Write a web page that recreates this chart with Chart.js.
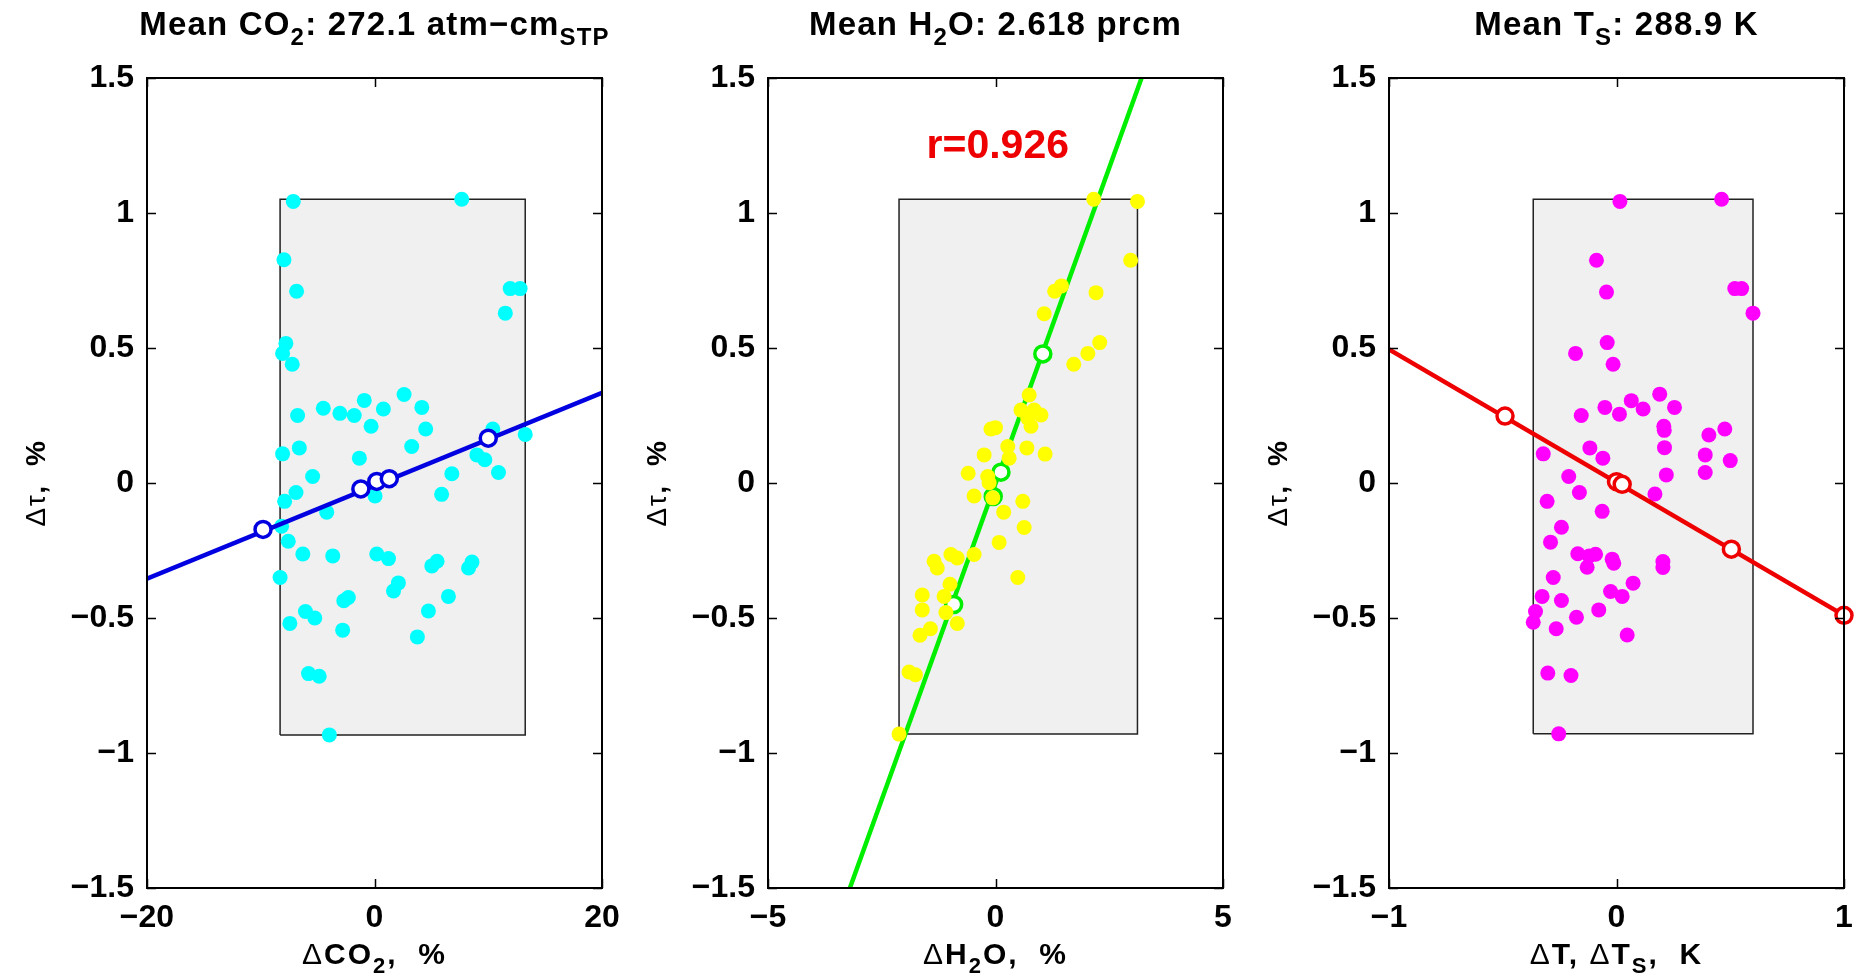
<!DOCTYPE html>
<html>
<head>
<meta charset="utf-8">
<script src="https://cdn.jsdelivr.net/npm/chart.js@4.4.0/dist/chart.umd.min.js"></script>
<style>
  html, body { margin: 0; padding: 0; background: #fff; overflow: hidden; }
  #wrap { position: relative; width: 1861px; height: 980px; }
  .panel { position: absolute; top: 0; width: 619px; height: 980px; }
</style>
</head>
<body>
<div id="wrap">
  <div class="panel" style="left:0px"><canvas id="c1" width="619" height="980"></canvas></div>
  <div class="panel" style="left:621px"><canvas id="c2" width="619" height="980"></canvas></div>
  <div class="panel" style="left:1242px"><canvas id="c3" width="619" height="980"></canvas></div>
</div>
<script>
// ---- data ----
const tauTicks = [-1.5, -1, -0.5, 0, 0.5, 1, 1.5];

// panel 1: CO2
const co2X = [-7.14, 7.67, -7.96, -6.85, 11.93, 12.8, 11.5, -7.79, -8.08, -7.23, -6.76, -4.5, -3.04, -1.78, -0.9, 0.78, 2.6, 4.16, -0.3, 4.5, 10.4, 13.25, -6.61, -8.08, -1.33, 3.27, 9.0, 9.7, 10.9, 6.8, -5.44, -6.9, -7.9, -4.2, 0.05, 5.9, -8.17, -7.58, -6.3, -3.67, 0.2, 1.23, 5.04, 5.5, 8.27, 8.57, -8.3, 1.67, 2.1, 6.5, -2.7, -2.3, -6.07, -5.25, 4.74, -7.44, -2.8, 3.77, -5.8, -4.86, -3.97];
const co2Tau = [1.043, 1.051, 0.827, 0.71, 0.72, 0.72, 0.629, 0.517, 0.48, 0.44, 0.25, 0.277, 0.258, 0.25, 0.306, 0.274, 0.328, 0.28, 0.21, 0.2, 0.2, 0.18, 0.13, 0.108, 0.092, 0.135, 0.104, 0.086, 0.039, 0.034, 0.024, -0.035, -0.068, -0.108, -0.048, -0.042, -0.16, -0.216, -0.263, -0.27, -0.263, -0.28, -0.307, -0.29, -0.315, -0.293, -0.35, -0.4, -0.37, -0.42, -0.436, -0.424, -0.476, -0.5, -0.474, -0.52, -0.545, -0.57, -0.706, -0.716, -0.933];
const co2FitX = [-20, 20];
const co2FitY = [-0.354, 0.334];
const co2BinX = [-9.8, -1.2, 0.2, 1.3, 10];
const co2BinY = [-0.172, -0.022, 0.006, 0.016, 0.166];
const co2Range = [-20, 20];
const co2Ticks = [-20, 0, 20];

// panel 2: H2O
const h2oX = [2.16, 3.12, 2.97, 1.3, 1.45, 2.21, 1.07, 2.29, 2.03, 1.72, 0.74, 0.56, 0.85, 1.0, 0.71, 0.78, -0.1, 0.0, 0.27, 0.69, 1.09, -0.25, 0.3, -0.6, -0.17, -0.14, -0.47, -0.06, 0.6, 0.18, 0.63, 0.08, -0.47, -0.98, -1.35, -1.28, -0.84, 0.49, -1.0, -1.61, -1.13, -1.61, -1.09, -0.84, -1.43, -1.66, -1.9, -1.76, -2.12];
const h2oTau = [1.051, 1.043, 0.825, 0.71, 0.73, 0.705, 0.627, 0.52, 0.48, 0.44, 0.326, 0.27, 0.27, 0.252, 0.24, 0.21, 0.2, 0.205, 0.135, 0.13, 0.107, 0.104, 0.092, 0.036, 0.024, 0.001, -0.048, -0.055, -0.068, -0.108, -0.165, -0.22, -0.265, -0.265, -0.29, -0.315, -0.278, -0.35, -0.375, -0.415, -0.42, -0.47, -0.48, -0.52, -0.54, -0.564, -0.7, -0.71, -0.93];
const h2oFitX = [-3.2, 3.21];
const h2oFitY = [-1.5, 1.5];
const h2oBinX = [-0.92, -0.05, 0.12, 1.04];
const h2oBinY = [-0.45, -0.05, 0.04, 0.478];
const h2oRange = [-5, 5];
const h2oTicks = [-5, 0, 5];

// panel 3: surface temperature
const tsX = [0.015, 0.462, -0.088, -0.044, 0.52, 0.55, 0.6, -0.041, -0.18, -0.015, -0.155, -0.051, 0.013, 0.065, 0.117, 0.19, 0.255, 0.208, 0.21, 0.406, 0.476, -0.322, -0.117, -0.06, 0.211, 0.39, 0.5, -0.21, 0.219, 0.39, -0.163, 0.169, -0.305, -0.063, -0.242, -0.29, -0.17, -0.092, -0.12, -0.129, -0.019, -0.012, 0.204, 0.204, -0.278, 0.073, -0.026, 0.025, -0.327, -0.242, -0.356, -0.078, -0.366, -0.176, -0.265, 0.047, -0.302, -0.2, -0.254];
const tsTau = [1.043, 1.051, 0.825, 0.707, 0.72, 0.72, 0.629, 0.52, 0.48, 0.44, 0.25, 0.28, 0.255, 0.305, 0.274, 0.329, 0.28, 0.21, 0.195, 0.178, 0.2, 0.108, 0.13, 0.092, 0.131, 0.104, 0.083, 0.024, 0.03, 0.039, -0.035, -0.041, -0.068, -0.105, -0.164, -0.219, -0.262, -0.264, -0.27, -0.312, -0.282, -0.297, -0.291, -0.313, -0.35, -0.371, -0.402, -0.42, -0.42, -0.435, -0.476, -0.47, -0.516, -0.497, -0.54, -0.563, -0.704, -0.713, -0.929];
const tsFitX = [-1, 1];
const tsFitY = [0.495, -0.49];
const tsBinX = [-0.49, 0, 0.025, 0.505, 1];
const tsBinY = [0.248, 0.005, -0.005, -0.245, -0.49];
const tsRange = [-1, 1];
const tsTicks = [-1, 0, 1];

// ---- helpers ----
const FONT = '"Liberation Sans", Arial, Helvetica, sans-serif';
const TICK_SIZE = 32;

const pts = (xs, ys) => xs.map((x, i) => ({ x: x, y: ys[i] }));

// gray box spanning the range of the scatter
function boxOf(xs, ys) {
  const x0 = Math.min(...xs), x1 = Math.max(...xs);
  const y0 = Math.min(...ys), y1 = Math.max(...ys);
  return [{ x: x0, y: y0 }, { x: x0, y: y1 }, { x: x1, y: y1 }, { x: x1, y: y0 }, { x: x0, y: y0 }];
}

const fmt = v => String(v).replace('-', '\u2212');

// draw text made of pieces: 'b' bold, 'n' normal, 's' subscript
function drawRich(ctx, segs, cx, baseY, size, spacing) {
  ctx.letterSpacing = (spacing || 0) + 'px';
  const parts = segs.map(([t, k]) => {
    const sub = k === 's';
    const fs = sub ? Math.round(size * 0.72) : size;
    const font = (k === 'n' ? '' : 'bold ') + fs + 'px ' + FONT;
    ctx.font = font;
    return { t: t, font: font, w: ctx.measureText(t).width, dy: sub ? size * 0.3 : 0 };
  });
  const total = parts.reduce((s, p) => s + p.w, 0);
  let x = cx - total / 2;
  ctx.textAlign = 'left';
  ctx.textBaseline = 'alphabetic';
  parts.forEach(p => {
    ctx.font = p.font;
    ctx.fillText(p.t, x, baseY + p.dy);
    x += p.w;
  });
  ctx.letterSpacing = '0px';
}

// frame with inward ticks, titles and labels
const framePlugin = {
  id: 'frame',
  afterDraw(chart, args, opts) {
    const { ctx, chartArea: a, scales } = chart;
    const xs = scales.x, ys = scales.y;
    ctx.save();
    ctx.strokeStyle = '#000';
    ctx.lineWidth = 1.5;
    ctx.beginPath();
    xs.ticks.forEach(t => {
      const px = Math.round(xs.getPixelForValue(t.value)) + 0.5;
      ctx.moveTo(px, a.bottom); ctx.lineTo(px, a.bottom - 9);
      ctx.moveTo(px, a.top); ctx.lineTo(px, a.top + 9);
    });
    ys.ticks.forEach(t => {
      const py = Math.round(ys.getPixelForValue(t.value)) + 0.5;
      ctx.moveTo(a.left, py); ctx.lineTo(a.left + 9, py);
      ctx.moveTo(a.right, py); ctx.lineTo(a.right - 9, py);
    });
    ctx.stroke();
    ctx.lineWidth = 2;
    ctx.strokeRect(a.left, a.top, a.right - a.left, a.bottom - a.top);

    const midX = (a.left + a.right) / 2;
    ctx.fillStyle = '#000';
    drawRich(ctx, opts.title, midX, 35, 33, 1.2);
    drawRich(ctx, opts.xLabel, midX, 964, 30, 2);

    ctx.save();
    ctx.translate(45, (a.top + a.bottom) / 2);
    ctx.rotate(-Math.PI / 2);
    drawRich(ctx, opts.yLabel, 0, 0, 28, 1.5);
    ctx.restore();

    if (opts.note) {
      ctx.fillStyle = opts.note.color;
      ctx.font = 'bold ' + opts.note.size + 'px ' + FONT;
      ctx.textAlign = 'center';
      ctx.textBaseline = 'middle';
      ctx.fillText(opts.note.text, xs.getPixelForValue(opts.note.x), ys.getPixelForValue(opts.note.y));
    }
    ctx.restore();
  }
};

function makePanel(id, p) {
  const dots = {
    type: 'scatter', data: pts(p.x, p.y), pointRadius: 7.5, pointHoverRadius: 7.5,
    pointBackgroundColor: p.dotColor, pointBorderWidth: 0, showLine: false
  };
  const circles = {
    type: 'line', data: pts(p.binX, p.binY), showLine: false, clip: false,
    pointRadius: 8, pointBorderWidth: 3.5, pointBorderColor: p.lineColor, pointBackgroundColor: '#fff'
  };
  const fit = {
    type: 'line', data: pts(p.fitX, p.fitY), borderColor: p.lineColor, borderWidth: 4.5,
    pointRadius: 0, tension: 0, fill: false
  };
  const box = {
    type: 'line', data: boxOf(p.x, p.y), borderColor: '#222', borderWidth: 1.5,
    backgroundColor: '#f0f0f0', fill: 'shape', pointRadius: 0, tension: 0
  };
  // first dataset is drawn on top
  const datasets = p.dotsOnTop ? [dots, circles, fit, box] : [circles, fit, dots, box];

  return new Chart(document.getElementById(id), {
    type: 'scatter',
    data: { datasets: datasets },
    options: {
      responsive: false,
      animation: false,
      devicePixelRatio: 1,
      layout: { padding: { top: 78, right: 17, bottom: 0, left: 0 } },
      plugins: {
        legend: { display: false },
        tooltip: { enabled: false },
        frame: { title: p.title, xLabel: p.xLabel, yLabel: [['\u0394\u03c4', 'n'], [',  %', 'b']], note: p.note }
      },
      scales: {
        x: {
          type: 'linear', min: p.range[0], max: p.range[1],
          grid: { display: false, drawTicks: false },
          border: { display: false },
          afterBuildTicks: s => { s.ticks = p.ticks.map(v => ({ value: v })); },
          afterFit: s => { s.height = 92; s.paddingLeft = 0; s.paddingRight = 0; },
          ticks: {
            autoSkip: false, maxRotation: 0, padding: 11, color: '#000',
            font: { family: FONT, size: TICK_SIZE, weight: 'bold' },
            callback: v => fmt(v)
          }
        },
        y: {
          type: 'linear', min: -1.5, max: 1.5,
          grid: { display: false, drawTicks: false },
          border: { display: false },
          afterBuildTicks: s => { s.ticks = tauTicks.map(v => ({ value: v })); },
          afterFit: s => { s.width = 147; s.paddingTop = 0; s.paddingBottom = 0; },
          ticks: {
            autoSkip: false, padding: 13, color: '#000',
            font: { family: FONT, size: TICK_SIZE, weight: 'bold' },
            callback: v => fmt(v)
          }
        }
      }
    },
    plugins: [framePlugin]
  });
}

makePanel('c1', {
  x: co2X, y: co2Tau, fitX: co2FitX, fitY: co2FitY, binX: co2BinX, binY: co2BinY,
  range: co2Range, ticks: co2Ticks, dotColor: '#00ffff', lineColor: '#0000e0',
  title: [['Mean CO', 'b'], ['2', 's'], [': 272.1 atm\u2212cm', 'b'], ['STP', 's']],
  xLabel: [['\u0394', 'n'], ['CO', 'b'], ['2', 's'], [',  %', 'b']]
});

makePanel('c2', {
  x: h2oX, y: h2oTau, fitX: h2oFitX, fitY: h2oFitY, binX: h2oBinX, binY: h2oBinY,
  range: h2oRange, ticks: h2oTicks, dotColor: '#ffff00', lineColor: '#00ee00', dotsOnTop: true,
  title: [['Mean H', 'b'], ['2', 's'], ['O: 2.618 prcm', 'b']],
  xLabel: [['\u0394', 'n'], ['H', 'b'], ['2', 's'], ['O,  %', 'b']],
  note: { text: 'r=0.926', x: 0.05, y: 1.245, color: '#ee0000', size: 41 }
});

makePanel('c3', {
  x: tsX, y: tsTau, fitX: tsFitX, fitY: tsFitY, binX: tsBinX, binY: tsBinY,
  range: tsRange, ticks: tsTicks, dotColor: '#ff00ff', lineColor: '#ee0000',
  title: [['Mean T', 'b'], ['S', 's'], [': 288.9 K', 'b']],
  xLabel: [['\u0394', 'n'], ['T, ', 'b'], ['\u0394', 'n'], ['T', 'b'], ['S', 's'], [',  K', 'b']]
});
</script>
</body>
</html>
